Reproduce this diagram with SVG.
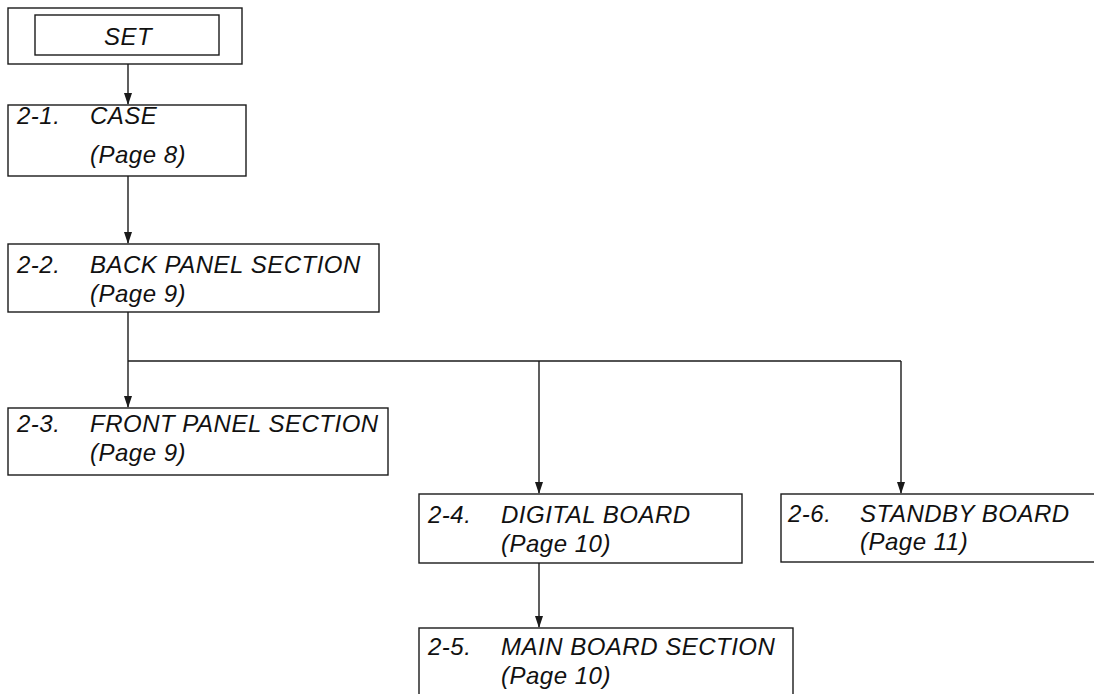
<svg xmlns="http://www.w3.org/2000/svg" width="1094" height="694" viewBox="0 0 1094 694">
<style>
.box{fill:#fff;stroke:#1a1a1a;stroke-width:1.4}
.ln{fill:none;stroke:#1a1a1a;stroke-width:1.4}
.ah{fill:#1a1a1a}
text{font-family:"Liberation Sans",Arial,sans-serif;font-style:italic;font-size:24px;letter-spacing:0.5px;fill:#111}
</style>
<rect width="1094" height="694" fill="#fff"/>
<g id="connectors">
<path class="ln" d="M128,64 V104"/>
<path class="ah" d="M124,93 L132,93 L128,105 Z"/>
<path class="ln" d="M128,176 V243"/>
<path class="ah" d="M124,232 L132,232 L128,244 Z"/>
<path class="ln" d="M128,312 V407"/>
<path class="ah" d="M124,396 L132,396 L128,408 Z"/>
<path class="ln" d="M128,361 H901"/>
<path class="ln" d="M539,361 V493"/>
<path class="ah" d="M535,482 L543,482 L539,494 Z"/>
<path class="ln" d="M901,361 V493"/>
<path class="ah" d="M897,482 L905,482 L901,494 Z"/>
<path class="ln" d="M539,563 V627"/>
<path class="ah" d="M535,616 L543,616 L539,628 Z"/>
</g>
<g id="set">
<rect class="box" x="8" y="8" width="234" height="56"/>
<rect class="box" x="35" y="15" width="184" height="40"/>
<text x="128" y="45" text-anchor="middle">SET</text>
</g>
<g id="n21">
<rect class="box" x="8" y="105" width="238" height="71"/>
<text x="17" y="124">2-1.</text>
<text x="90" y="124">CASE</text>
<text x="90" y="163">(Page 8)</text>
</g>
<g id="n22">
<rect class="box" x="8" y="244" width="371" height="68"/>
<text x="17" y="273">2-2.</text>
<text x="90" y="273">BACK PANEL SECTION</text>
<text x="90" y="302">(Page 9)</text>
</g>
<g id="n23">
<rect class="box" x="8" y="408" width="380" height="67"/>
<text x="17" y="432">2-3.</text>
<text x="90" y="432">FRONT PANEL SECTION</text>
<text x="90" y="461">(Page 9)</text>
</g>
<g id="n24">
<rect class="box" x="419" y="494" width="323" height="69"/>
<text x="428" y="523">2-4.</text>
<text x="501" y="523">DIGITAL BOARD</text>
<text x="501" y="552">(Page 10)</text>
</g>
<g id="n25">
<rect class="box" x="419" y="628" width="374" height="80"/>
<text x="428" y="655">2-5.</text>
<text x="501" y="655">MAIN BOARD SECTION</text>
<text x="501" y="684">(Page 10)</text>
</g>
<g id="n26">
<rect class="box" x="781" y="494" width="330" height="68"/>
<text x="788" y="522">2-6.</text>
<text x="860" y="522">STANDBY BOARD</text>
<text x="860" y="550">(Page 11)</text>
</g>
</svg>
